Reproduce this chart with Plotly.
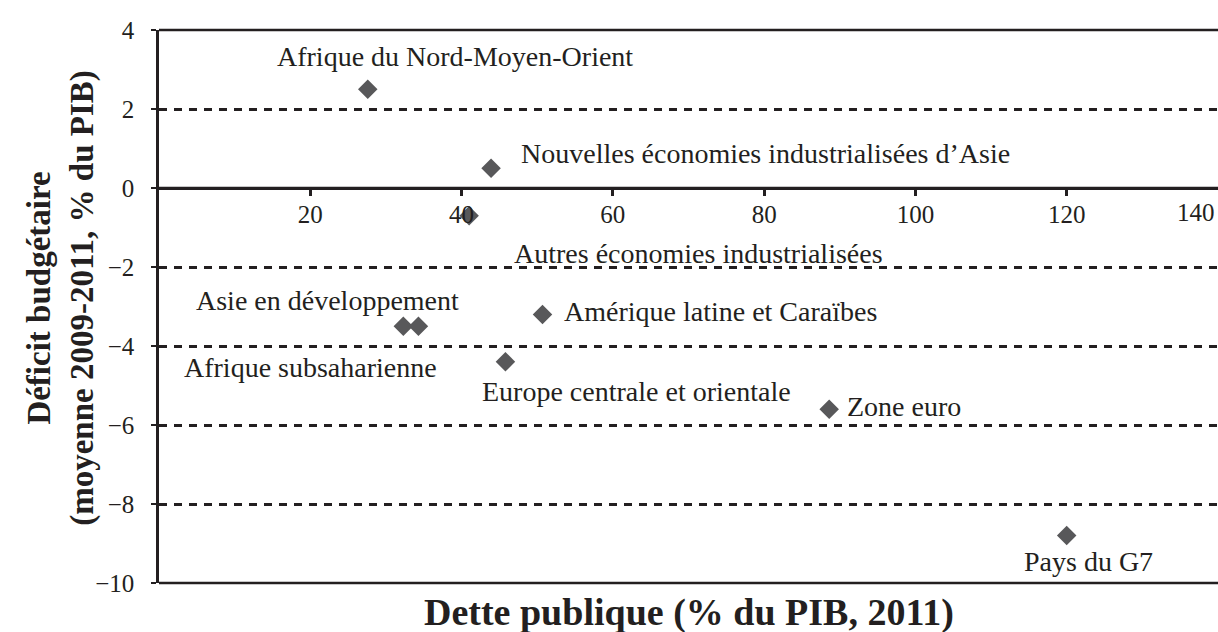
import plotly.graph_objects as go

# ---- data ----
regions = [
    "Afrique du Nord-Moyen-Orient",
    "Nouvelles économies industrialisées d’Asie",
    "Autres économies industrialisées",
    "Asie en développement",
    "Afrique subsaharienne",
    "Amérique latine et Caraïbes",
    "Europe centrale et orientale",
    "Zone euro",
    "Pays du G7",
]
dette = [27.6, 43.9, 41.0, 32.3, 34.3, 50.7, 45.8, 88.6, 120.0]
deficit = [2.5, 0.5, -0.7, -3.5, -3.5, -3.2, -4.4, -5.6, -8.8]

x_ticks = [20, 40, 60, 80, 100, 120, 140]
y_ticks = [4, 2, 0, -2, -4, -6, -8, -10]
y_ticktext = [str(v).replace("-", "\u2212") for v in y_ticks]

# label offsets in pixels relative to each marker (dx, dy up)
label_offsets = [
    (87, 33), (274, 15), (229, -38), (-76, 26), (-108, -41),
    (178, 3), (131, -30), (75, 3), (22, -26),
]

INK = "#231f20"
FONT = "Liberation Serif"

fig = go.Figure()
fig.add_trace(go.Scatter(
    x=dette, y=deficit, mode="markers",
    marker=dict(symbol="diamond", size=15, color="#58585a"),
    hoverinfo="text", text=regions, showlegend=False,
))

annotations = []
for name, xv, yv, (dx, dy) in zip(regions, dette, deficit, label_offsets):
    annotations.append(dict(
        x=xv, y=yv, xref="x", yref="y", text=name, showarrow=False,
        xanchor="center", yanchor="middle", xshift=dx, yshift=dy,
        font=dict(family=FONT, size=28, color=INK),
    ))

# last x tick label, kept inside the window
annotations.append(dict(
    x=x_ticks[-1], y=0, xref="x", yref="y", text=str(x_ticks[-1]),
    showarrow=False, xanchor="right", yanchor="top", yshift=-9, xshift=-1,
    font=dict(family=FONT, size=25, color=INK),
))

# axis titles
annotations.append(dict(
    x=0.5, y=-0.054, xref="paper", yref="paper",
    text="<b>Dette publique (% du PIB, 2011)</b>", showarrow=False,
    xanchor="center", yanchor="middle",
    font=dict(family=FONT, size=38, color=INK),
))
annotations.append(dict(
    x=-0.092, y=0.515, xref="paper", yref="paper",
    text="<b>Déficit budgétaire<br>(moyenne 2009-2011, % du PIB)</b>",
    showarrow=False, textangle=-90, xanchor="center", yanchor="middle",
    font=dict(family=FONT, size=33, color=INK),
))

fig.update_layout(
    width=1218, height=632,
    margin=dict(l=159, r=0, t=30, b=49),
    paper_bgcolor="white", plot_bgcolor="white",
    annotations=annotations,
    xaxis=dict(
        range=[0, 140], anchor="free", position=10 / 14,
        tickvals=x_ticks[:-1], ticktext=[str(v) for v in x_ticks[:-1]],
        ticks="outside", ticklen=6, tickwidth=2.5, tickcolor=INK,
        showline=True, linewidth=2.5, linecolor=INK,
        showgrid=False, zeroline=False, ticklabelstandoff=-3,
        tickfont=dict(family=FONT, size=25, color=INK),
    ),
    yaxis=dict(
        range=[-10, 4], tickvals=y_ticks, ticktext=y_ticktext,
        ticks="outside", ticklen=5, tickwidth=2, tickcolor=INK,
        showline=True, linewidth=2.5, linecolor=INK,
        showgrid=True, gridcolor=INK, gridwidth=2.5, griddash="8px,7px",
        zeroline=False, ticklabelstandoff=12,
        tickfont=dict(family=FONT, size=25, color=INK),
    ),
    shapes=[
        dict(type="line", xref="paper", yref="paper", x0=0, x1=1, y0=1, y1=1,
             line=dict(color=INK, width=2.5)),
        dict(type="line", xref="paper", yref="paper", x0=0, x1=1, y0=0, y1=0,
             line=dict(color=INK, width=2.5)),
        dict(type="line", xref="paper", yref="y", x0=0, x1=1, y0=0, y1=0,
             line=dict(color=INK, width=2.5)),
    ],
)

fig.write_html(
    "out.html",
    config={"displayModeBar": False},
    post_script="document.body.style.margin='0';document.body.style.overflow='hidden';",
)
